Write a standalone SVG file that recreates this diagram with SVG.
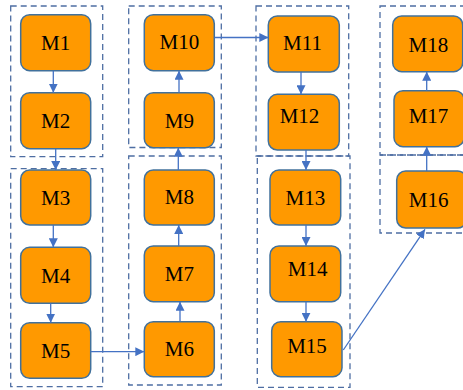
<svg xmlns="http://www.w3.org/2000/svg" width="463" height="390" viewBox="0 0 463 390">
  <style>
    .grp { fill: none; stroke: #4E6EA3; stroke-width: 1.3; stroke-dasharray: 6 4; }
    .node rect { fill: #FF9900; stroke: #41719C; stroke-width: 1.5; }
    .node text { font-family: "Liberation Serif", "Times New Roman", serif; font-size: 21px; fill: #000; text-anchor: middle; }
    .edge { fill: none; stroke: #4472C4; stroke-width: 1.3; }
  </style>
  <defs>
    <marker id="arrow" viewBox="0 0 10 10" refX="10" refY="5" markerWidth="9" markerHeight="9" markerUnits="userSpaceOnUse" orient="auto">
      <path d="M0,0 L10,5 L0,10 z" fill="#4472C4"/>
    </marker>
  </defs>

  <rect width="463" height="390" fill="#ffffff"/>

  <!-- dashed grouping frames -->
  <g id="frames">
    <rect class="grp" x="10.7" y="6" width="92" height="150.7"/>
    <rect class="grp" x="10.7" y="168.7" width="92" height="218"/>
    <rect class="grp" x="128.7" y="6" width="92.6" height="141.5"/>
    <rect class="grp" x="128.7" y="156" width="92.6" height="229"/>
    <rect class="grp" x="256" y="6" width="92.7" height="150"/>
    <rect class="grp" x="257.3" y="156" width="92.7" height="231.3"/>
    <rect class="grp" x="380" y="6" width="92" height="149"/>
    <rect class="grp" x="380" y="155" width="92" height="78"/>
  </g>

  <!-- column 1 -->
  <g id="M1" class="node"><rect x="20.7" y="14.7" width="70" height="56" rx="9"/><text x="55.7" y="50">M1</text></g>
  <g id="M2" class="node"><rect x="20.7" y="92.7" width="70" height="56" rx="9"/><text x="55.7" y="128">M2</text></g>
  <g id="M3" class="node"><rect x="20.7" y="170" width="70" height="55" rx="9"/><text x="55.7" y="205">M3</text></g>
  <g id="M4" class="node"><rect x="20.7" y="247.3" width="70" height="56" rx="9"/><text x="55.7" y="282.5">M4</text></g>
  <g id="M5" class="node"><rect x="20.7" y="322.7" width="70" height="55.6" rx="9"/><text x="55.7" y="358">M5</text></g>

  <!-- column 2 -->
  <g id="M10" class="node"><rect x="144.3" y="14.7" width="70" height="56" rx="9"/><text x="179.3" y="49">M10</text></g>
  <g id="M9" class="node"><rect x="144.3" y="92.7" width="70" height="55" rx="9"/><text x="179.3" y="128">M9</text></g>
  <g id="M8" class="node"><rect x="144.3" y="170" width="70" height="55" rx="9"/><text x="179.3" y="204">M8</text></g>
  <g id="M7" class="node"><rect x="144.3" y="246" width="70" height="55.7" rx="9"/><text x="179.3" y="281">M7</text></g>
  <g id="M6" class="node"><rect x="144.3" y="321.7" width="70" height="55" rx="9"/><text x="179.3" y="356">M6</text></g>

  <!-- column 3 -->
  <g id="M11" class="node"><rect x="268.3" y="16" width="71" height="56" rx="9"/><text x="302.5" y="50">M11</text></g>
  <g id="M12" class="node"><rect x="268.3" y="94.3" width="71" height="55.7" rx="9"/><text x="299.5" y="122.5">M12</text></g>
  <g id="M13" class="node"><rect x="270" y="170" width="70.7" height="55" rx="9"/><text x="305.3" y="205">M13</text></g>
  <g id="M14" class="node"><rect x="270" y="246" width="70.7" height="55.7" rx="9"/><text x="307.7" y="276">M14</text></g>
  <g id="M15" class="node"><rect x="271.7" y="321.7" width="70.3" height="55" rx="9"/><text x="307" y="352.5">M15</text></g>

  <!-- column 4 -->
  <g id="M18" class="node"><rect x="392.7" y="16" width="70" height="55.7" rx="9"/><text x="428.3" y="52">M18</text></g>
  <g id="M17" class="node"><rect x="394" y="90.7" width="70" height="56" rx="9"/><text x="428.5" y="123">M17</text></g>
  <g id="M16" class="node"><rect x="396.7" y="171" width="70" height="57" rx="9"/><text x="428.7" y="207">M16</text></g>

  <!-- connectors -->
  <g id="connectors">
    <line class="edge" x1="53.3" y1="70.7" x2="53.3" y2="92.7" marker-end="url(#arrow)"/>
    <line class="edge" x1="55.7" y1="148.7" x2="55.7" y2="170" marker-end="url(#arrow)"/>
    <line class="edge" x1="53.3" y1="225" x2="53.3" y2="247.3" marker-end="url(#arrow)"/>
    <line class="edge" x1="50.7" y1="303.3" x2="50.7" y2="322.7" marker-end="url(#arrow)"/>
    <line class="edge" x1="90.7" y1="351.7" x2="144.3" y2="351.7" marker-end="url(#arrow)"/>
    <line class="edge" x1="180" y1="321.7" x2="180" y2="301.7" marker-end="url(#arrow)"/>
    <line class="edge" x1="178.7" y1="246" x2="178.7" y2="225" marker-end="url(#arrow)"/>
    <line class="edge" x1="178.3" y1="170" x2="178.3" y2="147.7" marker-end="url(#arrow)"/>
    <line class="edge" x1="179" y1="92.7" x2="179" y2="70.7" marker-end="url(#arrow)"/>
    <line class="edge" x1="214.3" y1="37.5" x2="268.3" y2="37.5" marker-end="url(#arrow)"/>
    <line class="edge" x1="301" y1="72" x2="301" y2="94.3" marker-end="url(#arrow)"/>
    <line class="edge" x1="306" y1="150" x2="306" y2="170" marker-end="url(#arrow)"/>
    <line class="edge" x1="306" y1="225" x2="306" y2="246" marker-end="url(#arrow)"/>
    <line class="edge" x1="306" y1="301.7" x2="306" y2="321.7" marker-end="url(#arrow)"/>
    <line class="edge" x1="343.3" y1="350" x2="425" y2="229.3" marker-end="url(#arrow)"/>
    <line class="edge" x1="426.7" y1="171" x2="426.7" y2="146.7" marker-end="url(#arrow)"/>
    <line class="edge" x1="426.7" y1="90.7" x2="426.7" y2="71.7" marker-end="url(#arrow)"/>
  </g>
</svg>
